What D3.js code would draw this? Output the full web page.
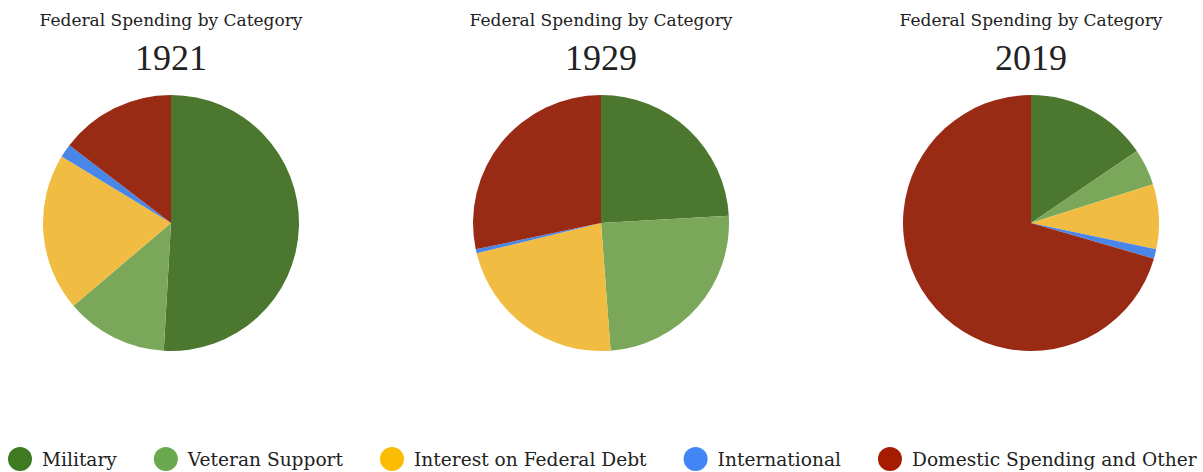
<!DOCTYPE html>
<html>
<head>
<meta charset="utf-8">
<script src="https://cdn.jsdelivr.net/npm/d3@7"></script>
<style>
  body { margin: 0; background: #fff; }
  text { font-family: "DejaVu Serif", "Liberation Serif", serif; fill: #222; }
  .year { font-family: "Liberation Serif", serif; }
</style>
</head>
<body>
<svg></svg>
<script>
// data (percent of federal spending)
var categories = ["Military", "Veteran Support", "Interest on Federal Debt", "International", "Domestic Spending and Other"];
var years = ["1921", "1929", "2019"];
var values1921 = [50.9, 12.9, 19.9, 1.7, 14.6];
var values1929 = [24.1, 24.7, 22.4, 0.5, 28.3];
var values2019 = [15.5, 4.6, 8.2, 1.2, 70.5];
var seriesValues = [values1921, values1929, values2019];

var pieColors = ["#4b772e", "#7aa75a", "#f0bd42", "#4a86e8", "#992a13"];
var legendColors = ["#3d7a20", "#6aa84f", "#fbbc04", "#4285f4", "#a61c00"];

var svgWidth = 1203,
    svgHeight = 472,
    radius = 128;

var svg = d3.select("svg")
    .attr("width", svgWidth)
    .attr("height", svgHeight);

var xScale = d3.scalePoint()
    .domain(years)
    .range([171, 1031]);

var color = d3.scaleOrdinal()
    .domain(categories)
    .range(pieColors);

var pie = d3.pie().sort(null);
var arc = d3.arc().innerRadius(0).outerRadius(radius);

years.forEach(function(year, i) {
    var g = svg.append("g")
        .attr("transform", "translate(" + xScale(year) + ",0)");

    g.append("text")
        .attr("y", 26)
        .attr("text-anchor", "middle")
        .attr("font-size", 17)
        .text("Federal Spending by Category");

    g.append("text")
        .attr("class", "year")
        .attr("y", 70)
        .attr("text-anchor", "middle")
        .attr("font-size", 36)
        .text(year);

    g.append("g")
        .attr("transform", "translate(0,223)")
        .selectAll("path")
        .data(pie(seriesValues[i]))
        .enter()
        .append("path")
        .attr("d", arc)
        .attr("fill", function(d, j) { return color(categories[j]); });
});

// legend
var legend = svg.append("g").attr("transform", "translate(0,459)");
var x = 8;
categories.forEach(function(c, i) {
    var item = legend.append("g").attr("transform", "translate(" + x + ",0)");
    item.append("circle")
        .attr("cx", 12)
        .attr("cy", 0)
        .attr("r", 12)
        .attr("fill", legendColors[i]);
    var t = item.append("text")
        .attr("x", 34)
        .attr("y", 7)
        .attr("font-size", 18.6)
        .text(c);
    x += 34 + t.node().getComputedTextLength() + 37;
});
</script>
</body>
</html>
